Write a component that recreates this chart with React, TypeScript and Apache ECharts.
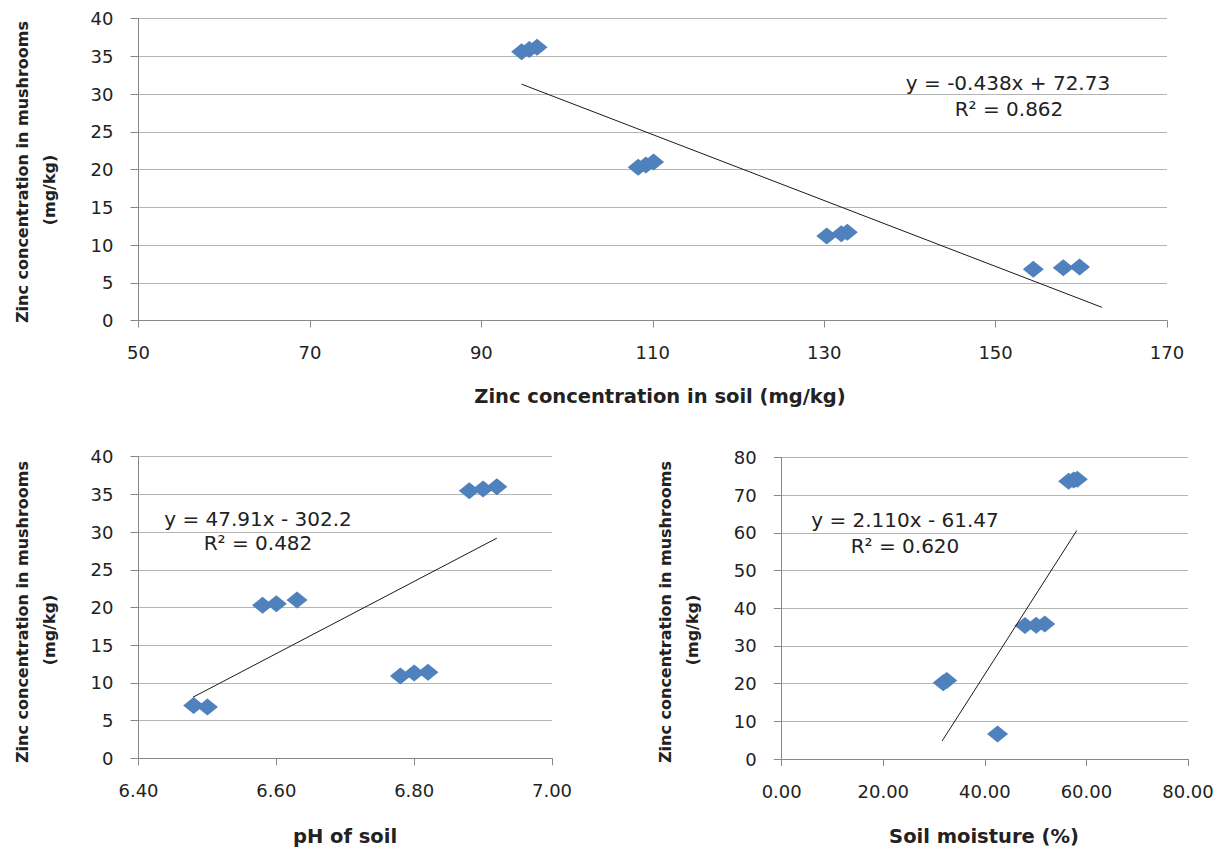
import React, { useEffect, useRef } from "react";
import * as echarts from "echarts";

// ---- Data ----
const soilZn = [94.7, 95.6, 96.5, 108.3, 109.2, 110.1, 130.3, 132.0, 132.7, 154.4, 157.9, 159.8];
const mushZnBySoil = [35.6, 35.9, 36.2, 20.3, 20.6, 21.0, 11.2, 11.5, 11.7, 6.8, 7.0, 7.1];

const soilPH = [6.48, 6.5, 6.58, 6.6, 6.63, 6.78, 6.8, 6.82, 6.88, 6.9, 6.92];
const mushZnByPH = [7.0, 6.8, 20.3, 20.5, 21.0, 10.9, 11.3, 11.4, 35.5, 35.7, 36.0];

const soilMoisture = [56.5, 57.5, 58.2, 47.9, 50.1, 51.8, 31.8, 32.5, 42.5];
const mushZnByMoisture = [73.7, 74.0, 74.2, 35.4, 35.5, 35.8, 20.2, 20.8, 6.6];

// trendline end points as drawn
const trendSoilX = [94.7, 162.4];
const trendSoilY = [31.3, 1.75];
const trendPHX = [6.479, 6.92];
const trendPHY = [8.1, 29.2];
const trendMoistX = [31.6, 58.1];
const trendMoistY = [4.8, 60.6];

const eqSoil = ["y = -0.438x + 72.73", "R² = 0.862"];
const eqPH = ["y = 47.91x - 302.2", "R² = 0.482"];
const eqMoist = ["y = 2.110x - 61.47", "R² = 0.620"];

const yTitle = ["Zinc concentration in mushrooms", "(mg/kg)"];
const xTitles = ["Zinc concentration in soil (mg/kg)", "pH of soil", "Soil moisture (%)"];

const pairs = (xs: number[], ys: number[]) => xs.map((x, i) => [x, ys[i]]);

const TICK_FONT = "DejaVu Sans";
const TXT = "#222222";
const AXIS = "#888888";
const GRIDC = "#B5B5B5";
const BLUE = "#4F81BD";

function xAxis(gridIndex: number, min: number, max: number, interval: number, dec: number) {
  return {
    type: "value",
    gridIndex,
    min,
    max,
    interval,
    axisLine: { show: true, onZero: false, lineStyle: { color: AXIS, width: 1 } },
    axisTick: { show: true, length: 7, lineStyle: { color: AXIS } },
    splitLine: { show: false },
    axisLabel: {
      margin: 23,
      color: TXT,
      fontFamily: TICK_FONT,
      fontSize: 18,
      formatter: (v: number) => v.toFixed(dec),
    },
  };
}

function yAxis(gridIndex: number, min: number, max: number, interval: number) {
  return {
    type: "value",
    gridIndex,
    min,
    max,
    interval,
    axisLine: { show: true, onZero: false, lineStyle: { color: AXIS, width: 1 } },
    axisTick: { show: true, length: 8, lineStyle: { color: AXIS } },
    splitLine: { show: true, lineStyle: { color: GRIDC, width: 1 } },
    axisLabel: {
      margin: 25,
      color: TXT,
      fontFamily: TICK_FONT,
      fontSize: 18,
    },
  };
}

function scatter(idx: number, xs: number[], ys: number[]) {
  return {
    type: "scatter",
    xAxisIndex: idx,
    yAxisIndex: idx,
    symbol: "diamond",
    symbolSize: [21, 17],
    itemStyle: { color: BLUE, opacity: 1 },
    data: pairs(xs, ys),
    z: 3,
  };
}

function trend(idx: number, xs: number[], ys: number[]) {
  return {
    type: "line",
    xAxisIndex: idx,
    yAxisIndex: idx,
    showSymbol: false,
    symbol: "none",
    lineStyle: { color: "#1a1a1a", width: 1 },
    data: pairs(xs, ys),
    z: 4,
  };
}

function txt(text: string, x: number, y: number, size: number, bold: boolean, rotation = 0) {
  return {
    type: "text",
    x,
    y,
    rotation,
    z: 10,
    style: {
      text,
      fill: TXT,
      font: `${bold ? "bold " : ""}${size}px "DejaVu Sans"`,
      align: "center",
      verticalAlign: "middle",
      textAlign: "center",
      textVerticalAlign: "middle",
    },
  };
}

export default function App() {
  const ref = useRef<HTMLDivElement>(null);
  useEffect(() => {
    if (!ref.current) return;
    const chart = echarts.init(ref.current, undefined, { renderer: "svg" });
    const R = Math.PI / 2;
    chart.setOption({
      animation: false,
      backgroundColor: "#ffffff",
      grid: [
        { left: 138.5, top: 18.5, width: 1028.5, height: 302 },
        { left: 138.5, top: 456.7, width: 413.5, height: 301.6 },
        { left: 781.7, top: 457.4, width: 406.3, height: 301.6 },
      ],
      xAxis: [
        xAxis(0, 50, 170, 20, 0),
        xAxis(1, 6.4, 7.0, 0.2, 2),
        xAxis(2, 0, 80, 20, 2),
      ],
      yAxis: [yAxis(0, 0, 40, 5), yAxis(1, 0, 40, 5), yAxis(2, 0, 80, 10)],
      series: [
        scatter(0, soilZn, mushZnBySoil),
        trend(0, trendSoilX, trendSoilY),
        scatter(1, soilPH, mushZnByPH),
        trend(1, trendPHX, trendPHY),
        scatter(2, soilMoisture, mushZnByMoisture),
        trend(2, trendMoistX, trendMoistY),
      ],
      graphic: [
        // y-axis titles
        txt(yTitle[0], 22, 172, 16, true, R),
        txt(yTitle[1], 49, 190, 16, true, R),
        txt(yTitle[0], 22, 612, 16, true, R),
        txt(yTitle[1], 49, 630, 16, true, R),
        txt(yTitle[0], 665, 612, 16, true, R),
        txt(yTitle[1], 692, 630, 16, true, R),
        // x-axis titles
        txt(xTitles[0], 660, 396, 19.5, true),
        txt(xTitles[1], 345, 836, 19.5, true),
        txt(xTitles[2], 984, 836, 19.5, true),
        // equations
        txt(eqSoil[0], 1008, 83, 20, false),
        txt(eqSoil[1], 1009, 109, 20, false),
        txt(eqPH[0], 258, 519, 20, false),
        txt(eqPH[1], 258, 543, 20, false),
        txt(eqMoist[0], 905, 520, 20, false),
        txt(eqMoist[1], 905, 546, 20, false),
      ],
    });
    return () => chart.dispose();
  }, []);
  return (
    <div
      ref={ref}
      style={{ position: "absolute", left: 0, top: 0, width: 1226, height: 847, background: "#fff" }}
    />
  );
}
